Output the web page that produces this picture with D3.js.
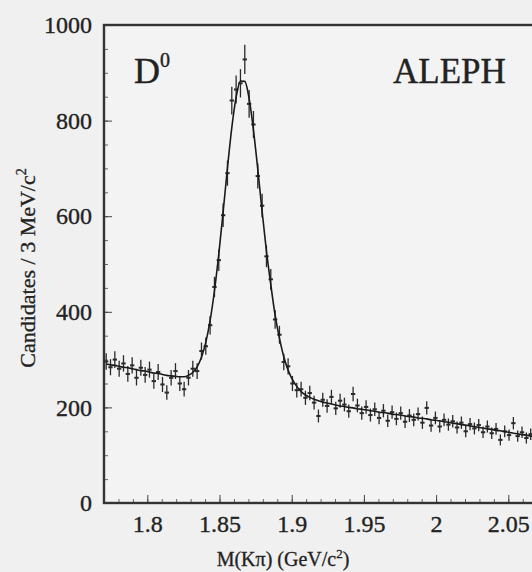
<!DOCTYPE html>
<html>
<head>
<meta charset="utf-8">
<script src="https://cdn.jsdelivr.net/npm/d3@7/dist/d3.min.js"></script>
<style>
  html, body { margin: 0; padding: 0; background: #eff0ef; }
  svg { display: block; }
  .tick text { font-family: "Liberation Serif", "DejaVu Serif", serif; fill: #222; stroke: #222; stroke-width: 0.35; }
</style>
</head>
<body>
<div id="chart"></div>
<script>
// 3 MeV bins starting at 1.770 GeV
const binStart = 1.77;
const binWidth = 0.003;

// candidates per bin
const counts = [
  296, 284, 300, 281, 292, 270, 288, 262, 283, 268,
  279, 255, 274, 248, 231, 262, 276, 250, 238, 262,
  281, 276, 318, 328, 372, 452, 508, 602, 690, 842,
  865, 878, 928, 835, 792, 684, 622, 516, 468, 384,
  352, 295, 286, 250, 236, 238, 220, 230, 210, 182,
  216, 203, 222, 198, 214, 206, 192, 228, 204, 188,
  201, 184, 196, 178, 193, 172, 190, 176, 188, 170,
  183, 174, 186, 168, 199, 162, 178, 160, 174, 164,
  171, 158, 168, 150, 165, 156, 163, 148, 160, 146,
  155, 132, 150, 142, 167, 140, 148, 136, 144, 133,
  141
];

// fitted curve at the bin centres
const fitValues = [
  291, 289, 288, 286, 284, 283, 281, 279, 277, 276,
  274, 272, 271, 269, 267, 266, 265, 264, 264, 267,
  273, 285, 305, 336, 382, 444, 521, 609, 701, 785,
  849, 883, 882, 846, 780, 698, 610, 527, 457, 393,
  345, 306, 278, 258, 244, 233, 226, 221, 217, 214,
  211, 209, 207, 205, 203, 202, 200, 199, 197, 196,
  195, 193, 192, 190, 189, 188, 186, 185, 184, 182,
  181, 180, 178, 177, 176, 174, 173, 172, 170, 169,
  167, 166, 164, 163, 161, 160, 158, 157, 155, 154,
  152, 151, 149, 148, 146, 145, 143, 142, 140, 139,
  137
];

const xTicks = [1.8, 1.85, 1.9, 1.95, 2, 2.05];
const yTicks = [0, 200, 400, 600, 800, 1000];

const width = 532, height = 572;
const margin = { left: 104, top: 25, bottom: 503 };

const svg = d3.select("#chart").append("svg")
  .attr("width", width)
  .attr("height", height);

const x = d3.scaleLinear().domain([1.77, 2.1]).range([margin.left, margin.left + 0.33 * 1444]);
const y = d3.scaleLinear().domain([0, 1000]).range([margin.bottom, margin.top]);

// plot area
svg.append("rect")
  .attr("x", x(1.77)).attr("y", y(1000))
  .attr("width", x(2.1) - x(1.77)).attr("height", y(0) - y(1000))
  .attr("fill", "#f2f3f2");

const bins = counts.map((c, i) => ({
  m: binStart + binWidth * (i + 0.5),
  n: c,
  fit: fitValues[i]
}));

// minor ticks
svg.append("g")
  .attr("transform", `translate(0,${y(0)})`)
  .call(d3.axisBottom(x).tickValues(d3.range(1.78, 2.1, 0.01)).tickSize(-4).tickFormat(""))
  .call(g => g.select(".domain").remove())
  .call(g => g.selectAll("line").attr("stroke", "#666"));
svg.append("g")
  .attr("transform", `translate(${x(1.77)},0)`)
  .call(d3.axisLeft(y).tickValues(d3.range(0, 1001, 50)).tickSize(-4).tickFormat(""))
  .call(g => g.select(".domain").remove())
  .call(g => g.selectAll("line").attr("stroke", "#666"));

// major ticks + labels
svg.append("g")
  .attr("transform", `translate(0,${y(0)})`)
  .call(d3.axisBottom(x).tickValues(xTicks).tickSize(-8).tickPadding(12).tickFormat(d3.format("")))
  .call(g => g.select(".domain").remove())
  .call(g => g.selectAll("line").attr("stroke", "#444"))
  .call(g => g.selectAll("text").attr("font-size", 24));
svg.append("g")
  .attr("transform", `translate(${x(1.77)},0)`)
  .call(d3.axisLeft(y).tickValues(yTicks).tickSize(-8).tickPadding(12).tickFormat(d3.format("d")))
  .call(g => g.select(".domain").remove())
  .call(g => g.selectAll("line").attr("stroke", "#444"))
  .call(g => g.selectAll("text").attr("font-size", 24));

// frame
svg.append("rect")
  .attr("x", x(1.77)).attr("y", y(1000))
  .attr("width", x(2.1) - x(1.77)).attr("height", y(0) - y(1000))
  .attr("fill", "none")
  .attr("stroke", "#333")
  .attr("stroke-width", 2.4);

// data points with error bars
const pts = svg.append("g").attr("stroke", "#2a2a2a");
pts.selectAll("line.err")
  .data(bins)
  .join("line")
  .attr("class", "err")
  .attr("x1", d => x(d.m)).attr("x2", d => x(d.m))
  .attr("y1", d => y(d.n + Math.sqrt(d.n)))
  .attr("y2", d => y(d.n - Math.sqrt(d.n)))
  .attr("stroke-width", 1.3);
pts.selectAll("line.bin")
  .data(bins)
  .join("line")
  .attr("class", "bin")
  .attr("x1", d => x(d.m - binWidth / 2)).attr("x2", d => x(d.m + binWidth / 2))
  .attr("y1", d => y(d.n)).attr("y2", d => y(d.n))
  .attr("stroke-width", 2);

// fit curve
const line = d3.line()
  .x(d => x(d.m))
  .y(d => y(d.fit))
  .curve(d3.curveMonotoneX);
svg.append("path")
  .datum(bins)
  .attr("d", line)
  .attr("fill", "none")
  .attr("stroke", "#1a1a1a")
  .attr("stroke-width", 1.6);

// labels
const serif = "'Liberation Serif', 'DejaVu Serif', serif";
const d0 = svg.append("text")
  .attr("x", 134).attr("y", 83)
  .attr("font-family", serif).attr("font-size", 36)
  .attr("fill", "#222").attr("stroke", "#222").attr("stroke-width", 0.4);
d0.append("tspan").text("D");
d0.append("tspan").attr("font-size", 20).attr("dy", -16).text("0");

svg.append("text")
  .attr("x", 393).attr("y", 83)
  .attr("font-family", serif).attr("font-size", 35)
  .attr("fill", "#222").attr("stroke", "#222").attr("stroke-width", 0.4)
  .text("ALEPH");

const yl = svg.append("text")
  .attr("transform", "translate(35,268) rotate(-90)")
  .attr("text-anchor", "middle")
  .attr("font-family", serif).attr("font-size", 22)
  .attr("fill", "#222").attr("stroke", "#222").attr("stroke-width", 0.3);
yl.append("tspan").text("Candidates / 3 MeV/c");
yl.append("tspan").attr("font-size", 14).attr("dy", -9).text("2");

const xl = svg.append("text")
  .attr("x", 283).attr("y", 566)
  .attr("text-anchor", "middle")
  .attr("font-family", serif).attr("font-size", 20)
  .attr("fill", "#222").attr("stroke", "#222").attr("stroke-width", 0.3);
xl.append("tspan").text("M(Kπ) (GeV/c");
xl.append("tspan").attr("font-size", 13).attr("dy", -8).text("2");
xl.append("tspan").attr("dy", 8).text(")");
</script>
</body>
</html>
